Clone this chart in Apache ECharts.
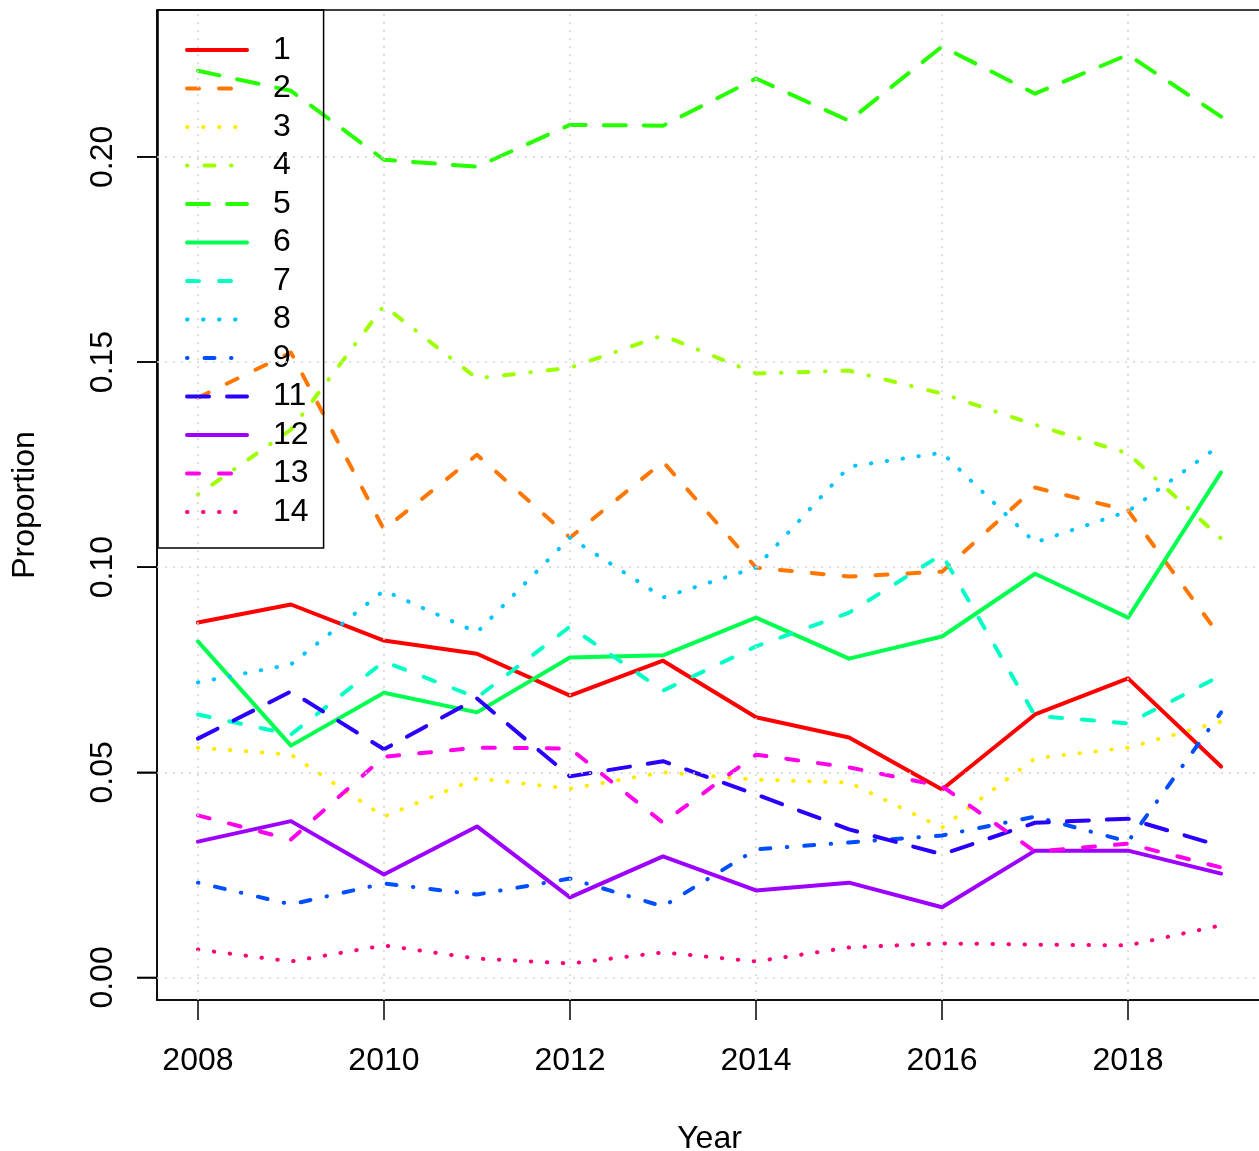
<!DOCTYPE html>
<html><head><meta charset="utf-8">
<script src="https://cdn.jsdelivr.net/npm/echarts@6/dist/echarts.min.js"></script>
<style>html,body{margin:0;padding:0;background:#fff}#c{width:1259px;height:1151px}</style>
</head><body><div id="c"></div>
<script>
const years = [2008,2009,2010,2011,2012,2013,2014,2015,2016,2017,2018,2019];
const seriesNames = ['1','2','3','4','5','6','7','8','9','11','12','13','14'];
const s1  = [0.0865,0.0909,0.0821,0.0789,0.0687,0.0772,0.0634,0.0585,0.0458,0.0641,0.0729,0.0514];
const s2  = [0.1413,0.1523,0.1092,0.1274,0.1072,0.1257,0.0999,0.0977,0.0989,0.1194,0.1138,0.0828];
const s3  = [0.0560,0.0543,0.0392,0.0485,0.0460,0.0500,0.0482,0.0475,0.0365,0.0534,0.0560,0.0624];
const s4  = [0.1177,0.1335,0.1637,0.1460,0.1486,0.1565,0.1472,0.1479,0.1423,0.1347,0.1277,0.1070];
const s5  = [0.2210,0.2161,0.1993,0.1976,0.2078,0.2076,0.2191,0.2088,0.2269,0.2154,0.2249,0.2098];
const s6  = [0.0819,0.0565,0.0694,0.0646,0.0780,0.0785,0.0877,0.0777,0.0831,0.0984,0.0877,0.1231];
const s7  = [0.0641,0.0592,0.0770,0.0682,0.0855,0.0699,0.0807,0.0889,0.1031,0.0638,0.0619,0.0736];
const s8  = [0.0719,0.0763,0.0943,0.0841,0.1072,0.0926,0.0999,0.1245,0.1279,0.1060,0.1136,0.1299];
const s9  = [0.0231,0.0178,0.0229,0.0202,0.0241,0.0173,0.0312,0.0329,0.0346,0.0392,0.0331,0.0646];
const s11 = [0.0582,0.0697,0.0556,0.0680,0.0490,0.0527,0.0446,0.0361,0.0300,0.0377,0.0387,0.0320];
const s12 = [0.0331,0.0381,0.0251,0.0368,0.0195,0.0295,0.0212,0.0231,0.0171,0.0309,0.0309,0.0253];
const s13 = [0.0395,0.0336,0.0538,0.0560,0.0558,0.0377,0.0543,0.0512,0.0466,0.0307,0.0326,0.0268];
const s14 = [0.0068,0.0039,0.0078,0.0046,0.0034,0.0061,0.0039,0.0073,0.0083,0.0080,0.0078,0.0127];
const xTicks = [2008,2010,2012,2014,2016,2018];
const yTicks = [0,0.05,0.10,0.15,0.20];
const yTickLabels = ['0.00','0.05','0.10','0.15','0.20'];

const colors = ['#FF0000','#FF7600','#FFEB00','#9DFF00','#27FF00','#00FF4E','#00FFC4','#00C4FF','#004EFF','#2700FF','#9D00FF','#FF00EB','#FF0076'];
const dashes = ['solid',[12,20],[0.5,15.5],[0.5,17,10,16.5],[22,18]];
const values = [s1,s2,s3,s4,s5,s6,s7,s8,s9,s11,s12,s13,s14];
const FONT = 'Liberation Sans';
const FS = 32;
const X_MIN = 2007.56, X_MAX = 2019.44, Y_MIN = -0.0055, Y_MAX = 0.2358;

const series = values.map((v,i)=>({
  name: seriesNames[i], type:'line', symbol:'none', z:3,
  data: years.map((y,j)=>[y, v[j]]),
  lineStyle:{color:colors[i], width:4, type:dashes[i%5], cap:'round', join:'round'},
  itemStyle:{color:colors[i]},
  emphasis:{disabled:true}
}));
series.unshift({
  type:'line', data:[], z:1, silent:true,
  markLine:{silent:true, symbol:['none','none'], label:{show:false}, animation:false,
    lineStyle:{color:'#d3d3d3', type:[2,6], width:1.5},
    emphasis:{disabled:true},
    data:[...yTicks.map(v=>({yAxis:v})), ...xTicks.map(v=>({xAxis:v}))]}
});
// y-axis tick marks (outside the plot, left)
series.push({
  type:'custom', silent:true, clip:false, z:5,
  data: yTicks.map(v=>[X_MIN, v]),
  renderItem:(params, api)=>{
    const p = api.coord([api.value(0), api.value(1)]);
    return {type:'line', shape:{x1:p[0]-20, y1:p[1], x2:p[0], y2:p[1]}, style:{stroke:'#000', lineWidth:1.5}};
  }
});

const chart = echarts.init(document.getElementById('c'));
chart.setOption({
  animation:false,
  backgroundColor:'#fff',
  textStyle:{fontFamily:FONT},
  grid:{left:157, top:10, width:1105, height:990, outerBoundsMode:'none', containLabel:false,
    show:true, borderColor:'#000', borderWidth:1.5, backgroundColor:'transparent'},
  xAxis:{type:'value', min:X_MIN, max:X_MAX,
    axisLine:{show:true, onZero:false, lineStyle:{color:'#000', width:1.5}}, splitLine:{show:false},
    axisTick:{show:true, inside:false, customValues:xTicks, length:20, lineStyle:{color:'#000', width:1.5, type:'solid'}},
    axisLabel:{customValues:xTicks, margin:45, fontSize:FS, color:'#000', fontFamily:FONT, formatter:(v)=>String(v)},
    name:'Year', nameLocation:'middle', nameGap:123, nameTextStyle:{fontSize:FS, color:'#000', fontFamily:FONT}},
  yAxis:{type:'value', min:Y_MIN, max:Y_MAX,
    axisLine:{show:true, onZero:false, lineStyle:{color:'#000', width:1.5}}, splitLine:{show:false},
    axisTick:{show:true, inside:false, customValues:yTicks, length:20, lineStyle:{color:'#000', width:1.5, type:'solid'}},
    axisLabel:{customValues:yTicks, rotate:90, margin:38, fontSize:FS, color:'#000', fontFamily:FONT,
      formatter:(v)=>{const k=yTicks.findIndex(t=>Math.abs(t-v)<1e-9); return k>=0?yTickLabels[k]:'';}},
    name:'Proportion', nameLocation:'middle', nameGap:116, nameTextStyle:{fontSize:FS, color:'#000', fontFamily:FONT}},
  legend:{orient:'vertical', left:158, top:10, data:seriesNames, selectedMode:false,
    itemWidth:60, itemHeight:20, itemGap:6.5, padding:[24,15,20,27],
    borderColor:'#000', borderWidth:1.5, backgroundColor:'transparent',
    itemStyle:{opacity:0},
    lineStyle:{width:4, cap:'round'},
    textStyle:{fontSize:FS, color:'#000', fontFamily:FONT, padding:[0,0,0,21]}},
  series: series
});
</script></body></html>
